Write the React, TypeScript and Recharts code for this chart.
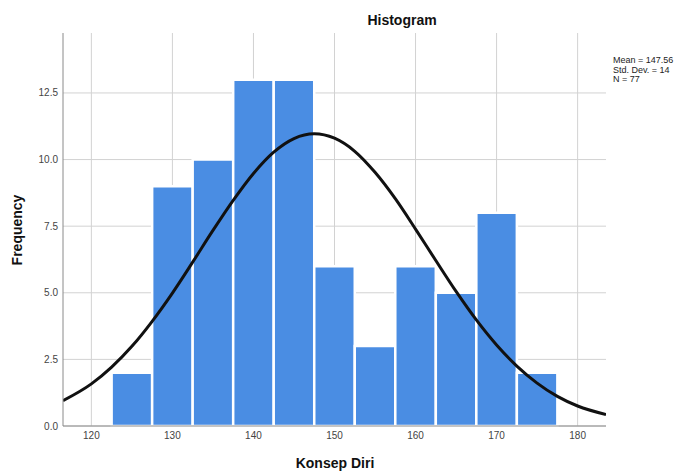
import { ComposedChart, Line, XAxis, YAxis, CartesianGrid, ReferenceArea } from 'recharts';

// histogram bins (width 5) and their counts
const binStarts = [122.5, 127.5, 132.5, 137.5, 142.5, 147.5, 152.5, 157.5, 162.5, 167.5, 172.5];
const binCounts = [2, 9, 10, 13, 13, 6, 3, 6, 5, 8, 2];
const binWidth = 5;

// normal curve
const curveX = [116.5, 120, 122.5, 125, 127.5, 130, 132.5, 135, 137.5, 140, 142.5, 145, 147.5, 150, 152.5, 155, 157.5, 160, 162.5, 165, 167.5, 170, 172.5, 175, 177.5, 180, 183.5];
const curveY = [0.95, 1.58, 2.21, 2.99, 3.93, 4.99, 6.15, 7.34, 8.47, 9.48, 10.28, 10.79, 10.97, 10.8, 10.31, 9.52, 8.53, 7.39, 6.21, 5.05, 3.98, 3.04, 2.25, 1.61, 1.11, 0.75, 0.43];

const xTicks = [120, 130, 140, 150, 160, 170, 180];
const yTicks = [0, 2.5, 5, 7.5, 10, 12.5];
const statsLines = ['Mean = 147.56', 'Std. Dev. = 14', 'N = 77'];

const curveData = curveX.map((x, i) => ({ x, y: curveY[i] }));

const FONT = '"Liberation Sans", Arial, sans-serif';

const App = () => {
  return (
    <div style={{ position: 'absolute', left: 0, top: 0, width: 684, height: 471, background: '#fff' }}>
      <ComposedChart
        width={684}
        height={471}
        data={curveData}
        margin={{ top: 33, right: 78, left: 0, bottom: 0 }}
        style={{ fontFamily: FONT }}
      >
        <CartesianGrid
          stroke="#d2d2d2"
          strokeWidth={1}
          horizontalValues={yTicks}
          verticalValues={xTicks}
        />
        <XAxis
          dataKey="x"
          type="number"
          domain={[116.5, 183.5]}
          ticks={xTicks}
          allowDataOverflow
          height={45}
          tickLine={false}
          tickSize={0}
          tickMargin={6}
          stroke="#8a8a8a"
          tick={{ fill: '#444', fontSize: 10 }}
        />
        <YAxis
          type="number"
          domain={[0, 14.75]}
          ticks={yTicks}
          allowDataOverflow
          width={63}
          tickLine={false}
          tickSize={0}
          tickMargin={5}
          stroke="#8a8a8a"
          tick={{ fill: '#444', fontSize: 10 }}
          tickFormatter={(v) => v.toFixed(1)}
        />
        {binStarts.map((start, i) => (
          <ReferenceArea
            key={`bin-${i}`}
            x1={start}
            x2={start + binWidth}
            y1={0}
            y2={binCounts[i]}
            fill="#4a8de3"
            fillOpacity={1}
            stroke="#ffffff"
            strokeWidth={2.5}
            ifOverflow="visible"
          />
        ))}
        <Line
          dataKey="y"
          type="monotone"
          stroke="#111"
          strokeWidth={3}
          dot={false}
          isAnimationActive={false}
        />
        <text x={402} y={25} textAnchor="middle" fontSize={14} fontWeight="bold" fill="#111" fontFamily={FONT}>
          Histogram
        </text>
        <text x={335} y={468} textAnchor="middle" fontSize={14} fontWeight="bold" fill="#111" fontFamily={FONT}>
          Konsep Diri
        </text>
        <text
          x={22}
          y={230}
          textAnchor="middle"
          fontSize={14}
          fontWeight="bold"
          fill="#111"
          fontFamily={FONT}
          transform="rotate(-90 22 230)"
        >
          Frequency
        </text>
        {statsLines.map((s, i) => (
          <text key={s} x={613} y={63 + i * 9.5} fontSize={9} fill="#222" fontFamily={FONT}>
            {s}
          </text>
        ))}
      </ComposedChart>
    </div>
  );
};

export default App;
